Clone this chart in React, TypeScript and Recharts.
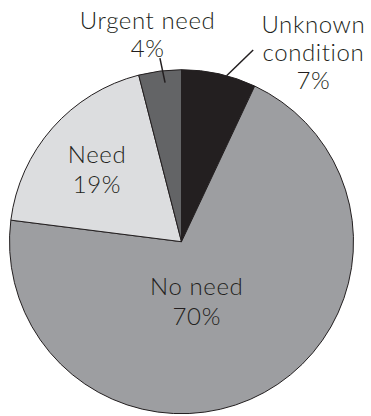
import React from 'react';
import { PieChart, Pie, Cell } from 'recharts';

const categories = ['Unknown condition', 'No need', 'Need', 'Urgent need'];
const shares = [7, 70, 19, 4];
const labelRows = [['Unknown', 'condition'], ['No need'], ['Need'], ['Urgent need']];

const data = categories.map((name, i) => ({ name, value: shares[i] }));

const COLORS = ['#231f20', '#9d9ea1', '#dcdddf', '#636466'];
const INK = '#231f20';
const RAD = Math.PI / 180;

// label placement: radius as fraction of outerRadius, angle shift from midAngle
const LABEL_POS = [
    { r: 1.34, shift: -22.3, lh: 28, leader: [1.0, -2.6, 1.19, -7.9] },
    { r: 0.362, shift: -14.6, lh: 30, leader: null },
    { r: 0.644, shift: 1.1, lh: 30, leader: null },
    { r: 1.22, shift: 2.1, lh: 28, leader: [0.93, -1.3, 1.075, -0.5] },
];

const polar = (cx: number, cy: number, r: number, deg: number) => ({
    x: cx + r * Math.cos(-deg * RAD),
    y: cy + r * Math.sin(-deg * RAD),
});

const renderLabel = (props: any) => {
    const { cx, cy, midAngle, outerRadius, index } = props;
    const pos = LABEL_POS[index];
    const c = polar(cx, cy, outerRadius * pos.r, midAngle + pos.shift);
    const lines = [...labelRows[index], `${shares[index]}%`];
    const firstBaseline = c.y - ((lines.length - 1) * pos.lh) / 2 + 8;
    let leader = null;
    if (pos.leader) {
        const [r1, a1, r2, a2] = pos.leader;
        const p1 = polar(cx, cy, outerRadius * r1, midAngle + a1);
        const p2 = polar(cx, cy, outerRadius * r2, midAngle + a2);
        leader = <line x1={p1.x} y1={p1.y} x2={p2.x} y2={p2.y} stroke={INK} strokeWidth={1.5} />;
    }
    return (
        <g>
            {leader}
            <text x={c.x} y={firstBaseline} textAnchor="middle" fill={INK} fontSize={24} fontWeight={300}
                letterSpacing={0.6} fontFamily="Lato, sans-serif">
                {lines.map((t, i) => (
                    <tspan key={i} x={c.x} y={firstBaseline + i * pos.lh}>{t}</tspan>
                ))}
            </text>
        </g>
    );
};

export default function App() {
    return (
        <div style={{ position: 'absolute', left: 0, top: 0, background: '#fff' }}>
            <PieChart width={371} height={416} margin={{ top: 0, right: 0, bottom: 0, left: 0 }}>
                <Pie
                    data={data}
                    dataKey="value"
                    nameKey="name"
                    cx={181.5}
                    cy={241.7}
                    outerRadius={172}
                    startAngle={90}
                    endAngle={-270}
                    stroke={INK}
                    strokeWidth={1}
                    label={renderLabel}
                    labelLine={false}
                    isAnimationActive={false}
                >
                    {data.map((d, i) => (
                        <Cell key={d.name} fill={COLORS[i]} />
                    ))}
                </Pie>
            </PieChart>
        </div>
    );
}
